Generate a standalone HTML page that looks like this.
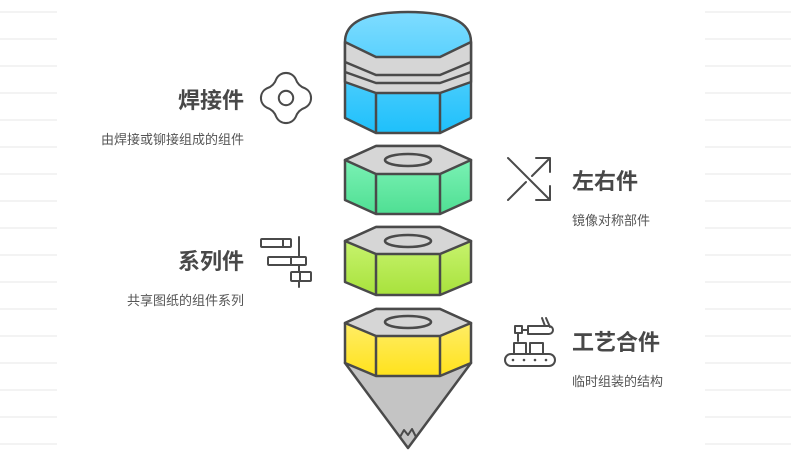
<!DOCTYPE html>
<html><head><meta charset="utf-8"><style>
body{margin:0;background:#fff;width:791px;height:462px;overflow:hidden;font-family:"Liberation Sans","Noto Sans CJK SC",sans-serif}
</style></head><body>
<svg width="791" height="462" viewBox="0 0 791 462" xmlns="http://www.w3.org/2000/svg" style="font-family:'Liberation Sans','Noto Sans CJK SC',sans-serif">
<defs>
<linearGradient id="b" x1="0" y1="0" x2="0" y2="1"><stop offset="0" stop-color="#7fdcff"/><stop offset="1" stop-color="#1ec0fb"/></linearGradient>
<linearGradient id="g" x1="0" y1="0" x2="0" y2="1"><stop offset="0" stop-color="#86f6bd"/><stop offset="1" stop-color="#4fdf93"/></linearGradient>
<linearGradient id="l" x1="0" y1="0" x2="0" y2="1"><stop offset="0" stop-color="#cff77a"/><stop offset="1" stop-color="#a8e23c"/></linearGradient>
<linearGradient id="y" x1="0" y1="0" x2="0" y2="1"><stop offset="0" stop-color="#fff07a"/><stop offset="1" stop-color="#ffe21c"/></linearGradient>
</defs>
<g stroke="#f3f3f3" stroke-width="2">
<line x1="0" y1="12" x2="57" y2="12"/><line x1="0" y1="39" x2="57" y2="39"/><line x1="0" y1="66" x2="57" y2="66"/><line x1="0" y1="93" x2="57" y2="93"/><line x1="0" y1="120" x2="57" y2="120"/><line x1="0" y1="147" x2="57" y2="147"/><line x1="0" y1="174" x2="57" y2="174"/><line x1="0" y1="201" x2="57" y2="201"/><line x1="0" y1="228" x2="57" y2="228"/><line x1="0" y1="255" x2="57" y2="255"/><line x1="0" y1="282" x2="57" y2="282"/><line x1="0" y1="309" x2="57" y2="309"/><line x1="0" y1="336" x2="57" y2="336"/><line x1="0" y1="363" x2="57" y2="363"/><line x1="0" y1="390" x2="57" y2="390"/><line x1="0" y1="417" x2="57" y2="417"/><line x1="0" y1="444" x2="57" y2="444"/>
<line x1="705" y1="12" x2="791" y2="12"/><line x1="705" y1="39" x2="791" y2="39"/><line x1="705" y1="66" x2="791" y2="66"/><line x1="705" y1="93" x2="791" y2="93"/><line x1="705" y1="120" x2="791" y2="120"/><line x1="705" y1="147" x2="791" y2="147"/><line x1="705" y1="174" x2="791" y2="174"/><line x1="705" y1="201" x2="791" y2="201"/><line x1="705" y1="228" x2="791" y2="228"/><line x1="705" y1="255" x2="791" y2="255"/><line x1="705" y1="282" x2="791" y2="282"/><line x1="705" y1="309" x2="791" y2="309"/><line x1="705" y1="336" x2="791" y2="336"/><line x1="705" y1="363" x2="791" y2="363"/><line x1="705" y1="390" x2="791" y2="390"/><line x1="705" y1="417" x2="791" y2="417"/><line x1="705" y1="444" x2="791" y2="444"/>
</g>
<g stroke="#4a4a4a" stroke-width="2.5" stroke-linejoin="round">
<path d="M345 42 Q345 12 408 12 Q471 12 471 42 L471 118 L440 133 L376 133 L345 118 Z" fill="url(#b)"/>
<path d="M345 42 L376 57 L440 57 L471 42 L471 82 L440 93 L376 93 L345 82 Z" fill="#d6d6d6"/>
<path d="M345 62 L376 75 L440 75 L471 62 M345 72 L376 83 L440 83 L471 72" fill="none"/>
<path d="M376 93 V133 M440 93 V133" fill="none"/>
<path d="M345 160 L376 146 L440 146 L471 160 L471 200 L440 214 L376 214 L345 200 Z" fill="url(#g)"/>
<path d="M345 160 L376 146 L440 146 L471 160 L440 174 L376 174 Z" fill="#d6d6d6"/>
<path d="M376 174 V214 M440 174 V214" fill="none"/>
<ellipse cx="408" cy="160" rx="23" ry="6" fill="#d6d6d6"/>
<path d="M345 241 L376 227 L440 227 L471 241 L471 282 L440 295 L376 295 L345 282 Z" fill="url(#l)"/>
<path d="M345 241 L376 227 L440 227 L471 241 L440 254 L376 254 Z" fill="#d6d6d6"/>
<path d="M376 254 V295 M440 254 V295" fill="none"/>
<ellipse cx="408" cy="241" rx="23" ry="6" fill="#d6d6d6"/>
<path d="M345 363 L471 363 L408 448 Z" fill="#c4c4c4"/>
<path d="M400 437 L404 430 L408 435 L412 429 L416 437" fill="none" stroke-width="2"/>
<path d="M345 323 L376 309 L440 309 L471 323 L471 363 L440 376 L376 376 L345 363 Z" fill="url(#y)"/>
<path d="M345 323 L376 309 L440 309 L471 323 L440 336 L376 336 Z" fill="#d6d6d6"/>
<path d="M376 336 V376 M440 336 V376" fill="none"/>
<ellipse cx="408" cy="322" rx="23" ry="6" fill="#d6d6d6"/>
</g>
<g stroke="#4a4a4a" stroke-width="2" fill="none" stroke-linecap="round" stroke-linejoin="round">
<g transform="translate(286 98) scale(1.2) translate(-286 -96)">
<path d="M278 80 A9 9 0 0 1 294 80 Q296 86 302 88 A9 9 0 0 1 302 104 Q296 106 294 112 A9 9 0 0 1 278 112 Q276 106 270 104 A9 9 0 0 1 270 88 Q276 86 278 80 Z" stroke-width="1.7"/>
<circle cx="286" cy="96" r="6" stroke-width="1.7"/>
</g>
<path d="M508 158 L550 200 M508 200 L526 182 M532 176 L550 158 M536 158 H550 V172 M536 200 H550 V186"/>
<rect x="261" y="239" width="30" height="8" rx="1"/><line x1="283" y1="239" x2="283" y2="247"/>
<rect x="268" y="257" width="38" height="8" rx="1"/><line x1="291" y1="257" x2="291" y2="265"/>
<rect x="291" y="272" width="20" height="9" rx="1"/><line x1="300" y1="272" x2="300" y2="281"/>
<line x1="299" y1="237" x2="299" y2="257"/><line x1="299" y1="265" x2="299" y2="272"/><line x1="299" y1="281" x2="299" y2="287"/>
<rect x="515" y="326" width="7" height="7"/><line x1="518" y1="333" x2="518" y2="341"/>
<path d="M522 330 H528 M528 326 H549 A4 4 0 0 1 549 334 H528 Z M545 326 L542 318 M550 327 L546 318"/>
<rect x="514" y="343" width="12" height="11"/><rect x="530" y="343" width="13" height="11"/>
<rect x="505" y="354" width="50" height="12" rx="6"/>
</g>
<g fill="#4a4a4a"><circle cx="513" cy="360" r="1.3"/><circle cx="524" cy="360" r="1.3"/><circle cx="535" cy="360" r="1.3"/><circle cx="546" cy="360" r="1.3"/></g>
<g fill="#484848" font-weight="bold" font-size="22">
<text x="244" y="108" text-anchor="end">焊接件</text>
<text x="572" y="189">左右件</text>
<text x="244" y="269" text-anchor="end">系列件</text>
<text x="572" y="350">工艺合件</text>
</g>
<g fill="#555" font-size="13">
<text x="244" y="144" text-anchor="end">由焊接或铆接组成的组件</text>
<text x="572" y="225">镜像对称部件</text>
<text x="244" y="305" text-anchor="end">共享图纸的组件系列</text>
<text x="572" y="386">临时组装的结构</text>
</g>
</svg>
</body></html>
